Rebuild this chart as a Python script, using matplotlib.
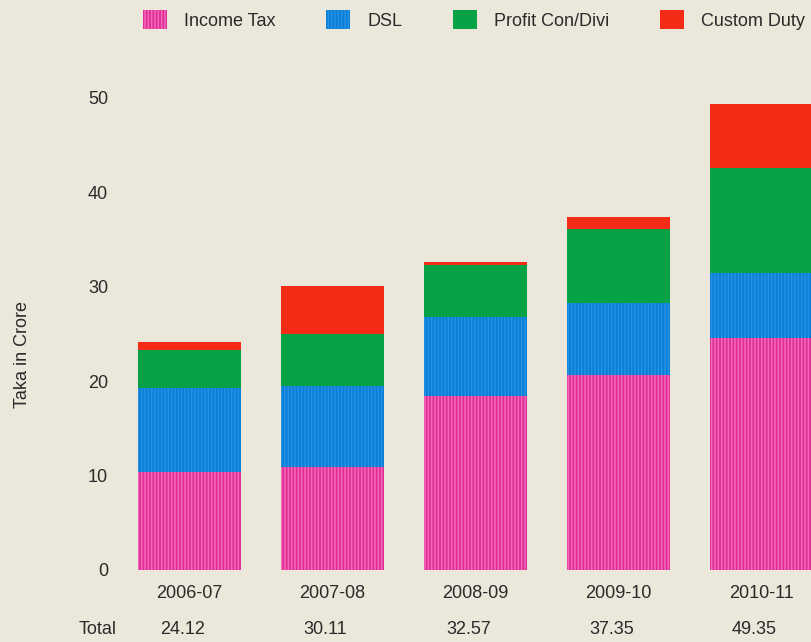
import matplotlib
matplotlib.use("Agg")
import matplotlib.pyplot as plt
from matplotlib.patches import Patch
import numpy as np

plt.rcParams["font.family"] = ["Liberation Sans", "DejaVu Sans"]
plt.rcParams["hatch.linewidth"] = 1.1

years = ["2006-07", "2007-08", "2008-09", "2009-10", "2010-11"]
income_tax = [10.33, 10.87, 18.43, 20.62, 24.57]
dsl = [8.98, 8.58, 8.38, 7.68, 6.88]
profit_con = [3.97, 5.54, 5.45, 7.79, 11.12]
custom_duty = [0.84, 5.12, 0.31, 1.26, 6.78]
totals = ["24.12", "30.11", "32.57", "37.35", "49.35"]

bg = "#ebe7da"
text_col = "#2a2a2a"
pink, pink_line = "#e12d96", "#f36ab8"
blue, blue_line = "#0a7ed7", "#2591e2"
green = "#08a246"
red = "#f42b16"
fs = 13

fig = plt.figure(figsize=(8.12, 6.42), dpi=100, facecolor=bg)
ax = fig.add_axes([120 / 812, 1 - 570 / 642, 692 / 812, (570 - 79) / 642])
ax.set_facecolor(bg)

x = np.arange(len(years))
w = 0.72
bottom = np.zeros(len(years))

ax.bar(x, income_tax, w, bottom=bottom, color=pink, edgecolor=pink_line,
       hatch="|||||", linewidth=0)
bottom += income_tax
ax.bar(x, dsl, w, bottom=bottom, color=blue, edgecolor=blue_line,
       hatch="|||||", linewidth=0)
bottom += dsl
ax.bar(x, profit_con, w, bottom=bottom, color=green, linewidth=0)
bottom += profit_con
ax.bar(x, custom_duty, w, bottom=bottom, color=red, linewidth=0)

ax.set_xlim((120 - 189.5) / 143, (812 - 189.5) / 143)
ax.set_ylim(0, 52)
ax.set_yticks([0, 10, 20, 30, 40, 50])
ax.set_xticks(x)
ax.set_xticklabels(years)
ax.tick_params(axis="both", length=0, labelsize=fs, colors=text_col)
ax.tick_params(axis="y", pad=8.5)
ax.tick_params(axis="x", pad=11)
for s in ax.spines.values():
    s.set_visible(False)

ax.set_ylabel("Taka in Crore", fontsize=fs, color=text_col)
ax.yaxis.set_label_coords(-0.128, 0.438)

# totals row under the year labels
ax.annotate("Total", xy=(-0.64, 0), xycoords=("data", "axes fraction"),
            xytext=(0, -43), textcoords="offset points", ha="center",
            va="center", fontsize=fs, color=text_col)
for xi, t in zip(x, totals):
    ax.annotate(t, xy=(xi - 0.05, 0), xycoords=("data", "axes fraction"),
                xytext=(0, -43), textcoords="offset points", ha="center",
                va="center", fontsize=fs, color=text_col)

handles = [
    Patch(facecolor=pink, edgecolor=pink_line, hatch="|||||", linewidth=0, label="Income Tax"),
    Patch(facecolor=blue, edgecolor=blue_line, hatch="|||||", linewidth=0, label="DSL"),
    Patch(facecolor=green, linewidth=0, label="Profit Con/Divi"),
    Patch(facecolor=red, linewidth=0, label="Custom Duty"),
]
leg = fig.legend(handles=handles, loc="center left", bbox_to_anchor=(143 / 812, 1 - 20 / 642),
                 ncol=4, frameon=False, fontsize=fs, handlelength=1.33, handleheight=1.2,
                 handletextpad=0.95, columnspacing=2.8, borderaxespad=0, borderpad=0)
for t in leg.get_texts():
    t.set_color(text_col)

plt.savefig("out.png", dpi=100, facecolor=bg)
